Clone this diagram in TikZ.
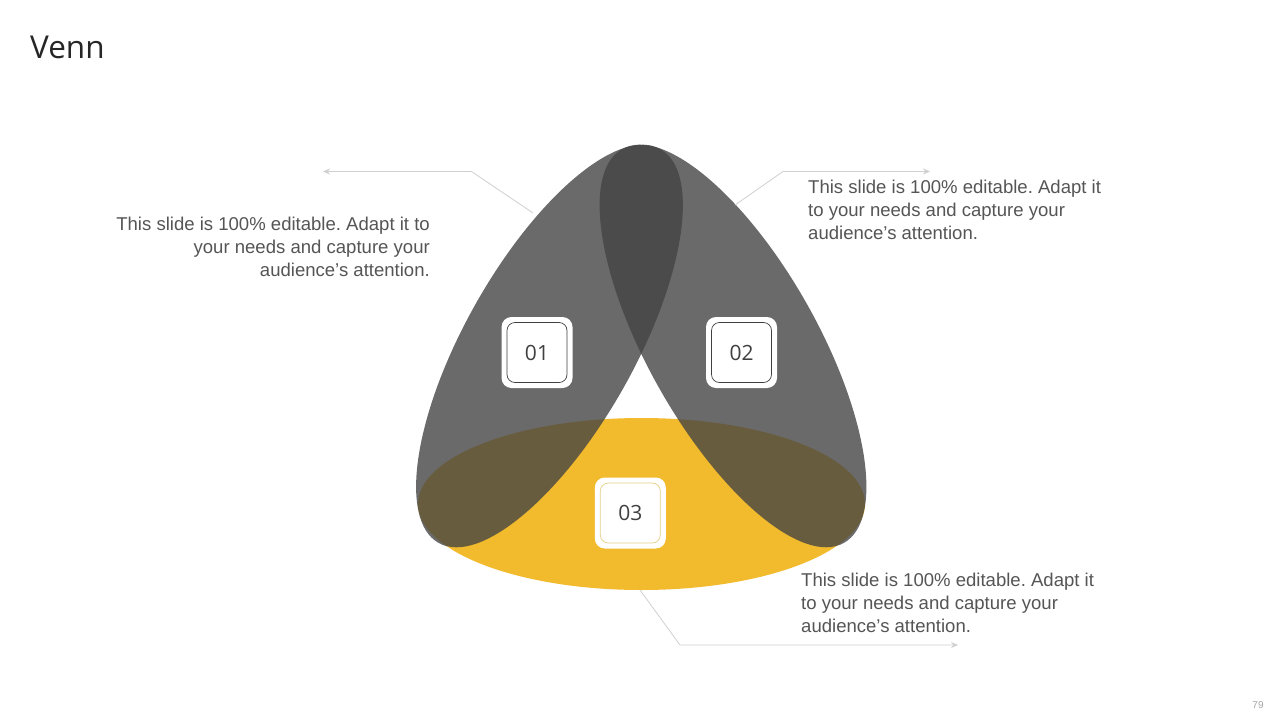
\documentclass[tikz,border=0pt]{standalone}
\usepackage{fontspec}
\setmainfont{Liberation Sans}
\newfontfamily\numfont{Open Sans}
\usetikzlibrary{arrows.meta}
\definecolor{leafgray}{HTML}{434343}
\definecolor{venyellow}{HTML}{F2BA2D}
\definecolor{linegray}{HTML}{D0D0D0}
\definecolor{txtgray}{HTML}{555555}
\definecolor{titlec}{HTML}{262626}
\definecolor{numc}{HTML}{404040}
\definecolor{inneryel}{HTML}{E6CF86}
\definecolor{pagec}{HTML}{A6A6A6}
\frenchspacing
\begin{document}
\begin{tikzpicture}[x=1pt,y=-1pt,
  leaf/.style={fill=leafgray, fill opacity=0.79},
  conn/.style={draw=linegray, line width=0.8pt, -{Stealth[length=7pt,width=6pt]}},
  outerbox/.style={fill=white, rounded corners=10pt, minimum size=71pt, inner sep=0pt},
  innerbox/.style={draw=numc, line width=0.7pt, rounded corners=8pt, minimum size=60pt, inner sep=0pt,
     font=\numfont\fontsize{21}{24}\selectfont, text=numc},
  bodytext/.style={font=\fontsize{18.55}{23}\selectfont, text=txtgray, inner sep=0pt}
]
\useasboundingbox[fill=white] (0,0) rectangle (1280,720);

% title and page number
\node[anchor=base west, font=\numfont\fontsize{31.5}{38}\selectfont, text=titlec, inner sep=0pt] (title) at (30,58) {Venn};
\node[font=\fontsize{10}{12}\selectfont, text=pagec, inner sep=0pt] (page) at (1258,705) {79};

% yellow ellipse
\coordinate (yc) at (641.5,504);
\fill[venyellow] (yc) ellipse [x radius=223.5pt, y radius=86pt];

% gray leaves
\coordinate (lc) at (549.5,346);
\coordinate (rc) at (733,346);
\fill[leaf, rotate around={60.6:(lc)}] (lc) ellipse [x radius=226pt, y radius=85pt];
\fill[leaf, rotate around={-60.6:(rc)}] (rc) ellipse [x radius=226pt, y radius=85pt];

% number boxes
\node[outerbox] (b1o) at (537,352.5) {};
\node[innerbox] (b1) at (b1o) {01};
\node[outerbox] (b2o) at (741.5,352.5) {};
\node[innerbox] (b2) at (b2o) {02};
\node[outerbox] (b3o) at (630.3,513) {};
\node[innerbox, draw=inneryel] (b3) at (b3o) {03};

% connectors
\coordinate (l1) at (533,213);
\coordinate (l2) at (471.5,171.5);
\coordinate (l3) at (323,171.5);
\draw[conn] (l1) -- (l2) -- (l3);
\coordinate (r1) at (735,205);
\coordinate (r2) at (783,171.5);
\coordinate (r3) at (930,171.5);
\draw[conn] (r1) -- (r2) -- (r3);
\coordinate (d1) at (640,590);
\coordinate (d2) at (680,645);
\coordinate (d3) at (958,645);
\draw[conn] (d1) -- (d2) -- (d3);

% texts
\node[bodytext, anchor=north east, align=right] (t1) at (430,217) {This slide is 100\% editable. Adapt it to\\your needs and capture your\\audience’s attention.};
\node[bodytext, anchor=north west, align=left] (t2) at (808,180.3) {This slide is 100\% editable. Adapt it\\to your needs and capture your\\audience’s attention.};
\node[bodytext, anchor=north west, align=left] (t3) at (801,573) {This slide is 100\% editable. Adapt it\\to your needs and capture your\\audience’s attention.};
\end{tikzpicture}
\end{document}
